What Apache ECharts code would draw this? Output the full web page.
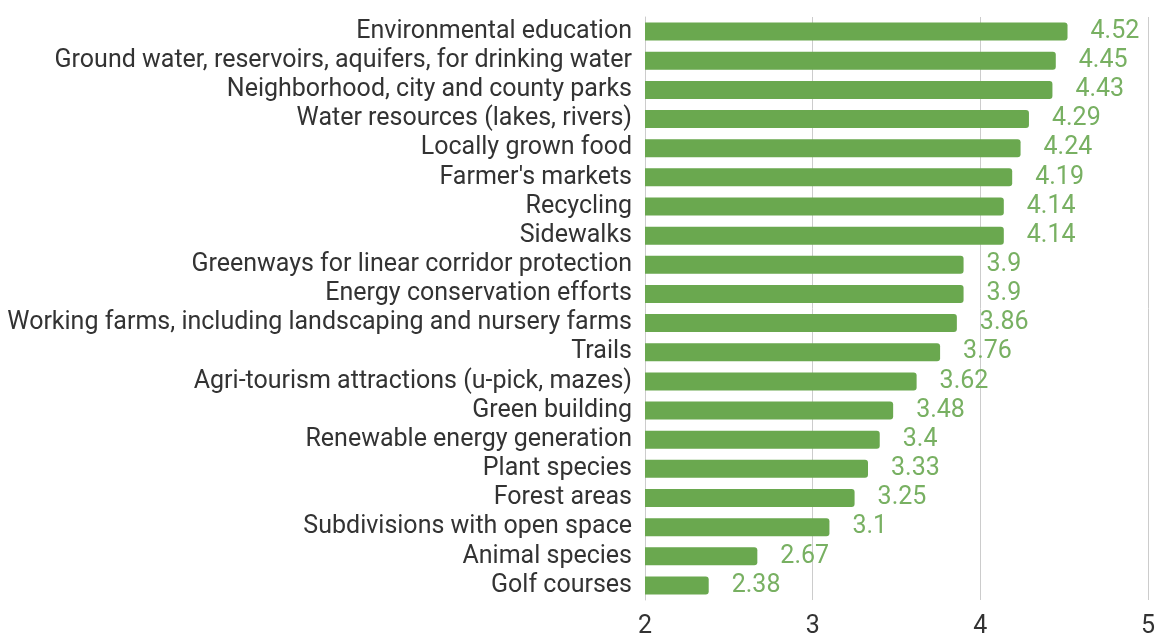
<!DOCTYPE html>
<html><head><meta charset="utf-8">
<script src="https://cdn.jsdelivr.net/npm/echarts@6/dist/echarts.min.js"></script>
<style>html,body{margin:0;padding:0;background:#fff}#c{width:1159px;height:639px}</style>
</head><body><div id="c"></div>
<script>
const categories = [
  "Environmental education",
  "Ground water, reservoirs, aquifers, for drinking water",
  "Neighborhood, city and county parks",
  "Water resources (lakes, rivers)",
  "Locally grown food",
  "Farmer's markets",
  "Recycling",
  "Sidewalks",
  "Greenways for linear corridor protection",
  "Energy conservation efforts",
  "Working farms, including landscaping and nursery farms",
  "Trails",
  "Agri-tourism attractions (u-pick, mazes)",
  "Green building",
  "Renewable energy generation",
  "Plant species",
  "Forest areas",
  "Subdivisions with open space",
  "Animal species",
  "Golf courses"
];
const values = [4.52, 4.45, 4.43, 4.29, 4.24, 4.19, 4.14, 4.14, 3.9, 3.9, 3.86, 3.76, 3.62, 3.48, 3.4, 3.33, 3.25, 3.1, 2.67, 2.38];
const xTicks = [2, 3, 4, 5];

const chart = echarts.init(document.getElementById('c'), null, {renderer: 'canvas'});
chart.setOption({
  animation: false,
  backgroundColor: '#ffffff',
  grid: {left: 645, right: 11, top: 17, bottom: 38, containLabel: false},
  xAxis: {
    type: 'value', min: xTicks[0], max: xTicks[xTicks.length - 1], interval: 1,
    axisLine: {show: false}, axisTick: {show: false},
    splitLine: {show: true, lineStyle: {color: '#cccccc', width: 1}},
    axisLabel: {color: '#333333', fontSize: 25, fontFamily: 'Roboto', margin: 14}
  },
  yAxis: {
    type: 'category', data: categories, inverse: true,
    axisLine: {show: true, lineStyle: {color: '#cccccc'}}, axisTick: {show: false},
    axisLabel: {interval: 0, color: '#333333', fontSize: 25, fontFamily: 'Roboto', margin: 13}
  },
  series: [{
    type: 'bar', data: values, barWidth: 18,
    itemStyle: {color: '#6aa84f', borderRadius: [0, 3, 3, 0]},
    label: {show: true, position: 'right', distance: 23, color: '#78b062', fontSize: 25, fontFamily: 'Roboto'}
  }]
});
</script></body></html>
